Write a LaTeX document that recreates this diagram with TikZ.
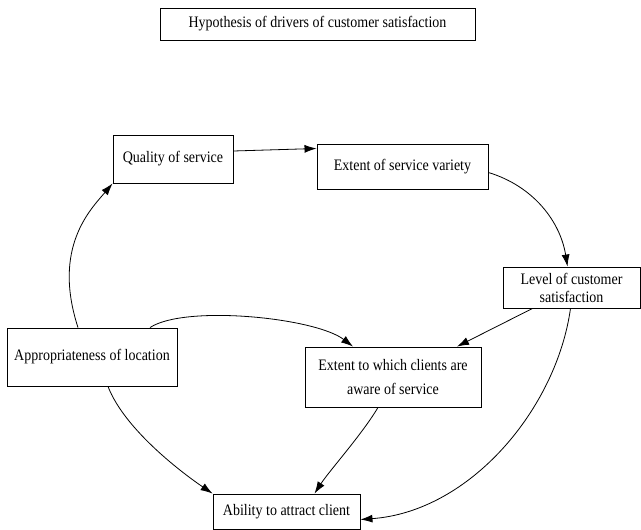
\documentclass[tikz,border=0pt]{standalone}
\usepackage{fontspec}
\setmainfont[FakeStretch=0.875]{Liberation Serif}
\usetikzlibrary{arrows.meta}
\begin{document}
\begin{tikzpicture}[x=1pt,y=-1pt,
  box/.style={draw,line width=0.9pt,inner sep=0pt,align=center,
    font=\fontsize{16}{18}\selectfont},
  link/.style={line width=0.8pt,-{Latex[length=12pt,width=8pt]}}]
\useasboundingbox (0,0) rectangle (641,530);

\node[box,minimum width=315pt,minimum height=32pt] (title) at (317.5,24)
  {Hypothesis of drivers of customer satisfaction};
\node[box,minimum width=120pt,minimum height=48pt] (qual) at (173,159)
  {Quality of service};
\node[box,minimum width=171pt,minimum height=45pt] (var) at (402.5,166.5)
  {Extent of service variety};
\node[box,minimum width=137pt,minimum height=41pt] (level) at (571.5,287.5)
  {Level of customer\\satisfaction};
\node[box,minimum width=170pt,minimum height=58pt] (loc) at (92,357)
  {Appropriateness of location};
\node[box,minimum width=176pt,minimum height=60pt,
  font=\fontsize{16}{24}\selectfont] (aware) at (393,377)
  {Extent to which clients are\\aware of service};
\node[box,minimum width=147pt,minimum height=35pt] (abil) at (286.5,511.5)
  {Ability to attract client};

% connectors
\draw[link] ([xshift=-14pt]loc.north) .. controls +(-26,-80) and +(-22,26) .. (qual.south west);
\draw[link] ([yshift=8pt]qual.east) -- ([yshift=18pt]var.west);
\draw[link] ([yshift=-6pt]var.east) .. controls +(46,14) and +(-7,-44) .. ([xshift=-4pt]level.north);
\draw[link] ([xshift=58pt]loc.north) .. controls +(35,-23) and +(-38,-29) .. ([xshift=-40pt]aware.north);
\draw[link] ([xshift=-39pt]level.south) -- ([xshift=64pt]aware.north);
\draw[link] ([xshift=16pt]loc.south) .. controls +(17,44) and +(-28,-19) .. (abil.north west);
\draw[link] ([xshift=-15pt]aware.south) .. controls +(-16,27) and +(15,-23) .. ([xshift=28pt]abil.north);
\draw[link] ([xshift=-1pt]level.south) .. controls +(-14,100) and +(110,-8) .. ([yshift=-8pt]abil.east);
\end{tikzpicture}
\end{document}
